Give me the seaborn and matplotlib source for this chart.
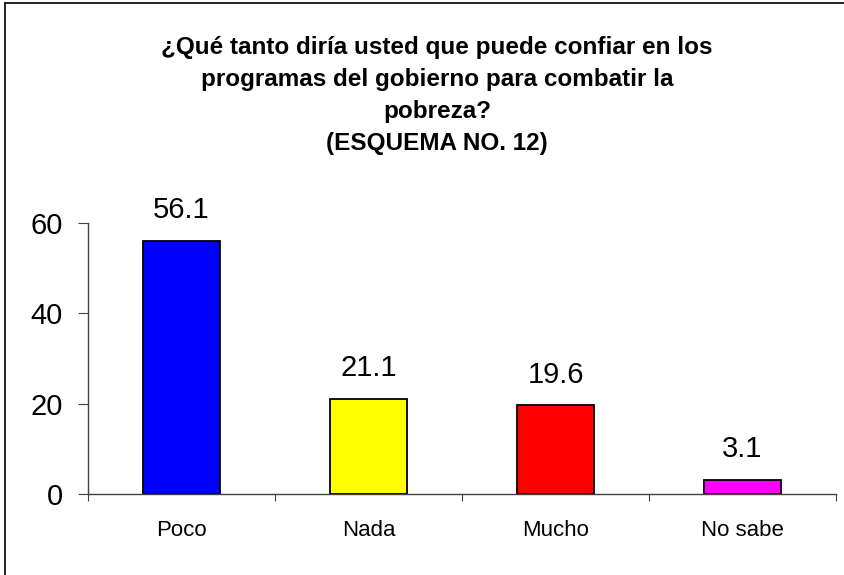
import matplotlib
matplotlib.use("Agg")
import matplotlib.pyplot as plt
import seaborn as sns
import pandas as pd
from matplotlib.lines import Line2D

# Data
categories = ["Poco", "Nada", "Mucho", "No sabe"]
values = [56.1, 21.1, 19.6, 3.1]
bar_colors = ["#0000FF", "#FFFF00", "#FF0000", "#FF00FF"]
y_ticks = [0, 20, 40, 60]
title = ("¿Qué tanto diría usted que puede confiar en los\n"
         "programas del gobierno para combatir la\n"
         "pobreza?\n"
         "(ESQUEMA NO. 12)")

sns.set_style("white")
plt.rcParams["font.family"] = ["Liberation Sans", "DejaVu Sans"]
plt.rcParams["text.color"] = "black"
plt.rcParams["xtick.labelcolor"] = "black"
plt.rcParams["ytick.labelcolor"] = "black"

df = pd.DataFrame({"cat": categories, "val": values})

fig = plt.figure(figsize=(8.44, 5.75), dpi=100)
ax = fig.add_axes([88 / 844, 1 - 494 / 575, 748 / 844, (494 - 223) / 575])

sns.barplot(data=df, x="cat", y="val", hue="cat", palette=bar_colors,
            order=categories, hue_order=categories, legend=False,
            width=0.41, edgecolor="black", linewidth=1.3, ax=ax, saturation=1)

ax.set_xlim(-0.5, len(categories) - 0.5)
ax.set_ylim(0, 60)
ax.set_yticks(y_ticks)
ax.set_xlabel("")
ax.set_ylabel("")

# value labels above bars
for i, v in enumerate(values):
    ax.annotate(f"{v:.1f}", (i, v), xytext=(0, 12), textcoords="offset points",
                ha="center", va="bottom", fontsize=21, color="black")

# axis styling
for s in ["top", "right"]:
    ax.spines[s].set_visible(False)
for s in ["left", "bottom"]:
    ax.spines[s].set_color("#404040")
    ax.spines[s].set_linewidth(1.0)

ax.tick_params(axis="y", direction="out", length=7, width=0.8, color="#404040",
               labelsize=21, pad=11, left=True, labelcolor="black")
ax.tick_params(axis="x", which="major", length=0, labelsize=16, pad=19,
               labelcolor="black")
ax.set_xticks([i - 0.5 for i in range(len(categories) + 1)], minor=True)
ax.tick_params(axis="x", which="minor", direction="out", length=5, width=0.8,
               color="#404040", bottom=True)

fig.text(437 / 844, 1 - 36 / 575, title, ha="center", va="top", color="black",
         fontsize=17.5, fontweight="bold", linespacing=1.5, multialignment="center")

# outer chart border (top and left visible)
fig.add_artist(Line2D([5 / 844, 1.0], [1 - 3 / 575, 1 - 3 / 575], color="black", lw=1.2))
fig.add_artist(Line2D([5 / 844, 5 / 844], [0.0, 1 - 3 / 575], color="black", lw=1.2))

fig.savefig("out.png", dpi=100, facecolor="white")
